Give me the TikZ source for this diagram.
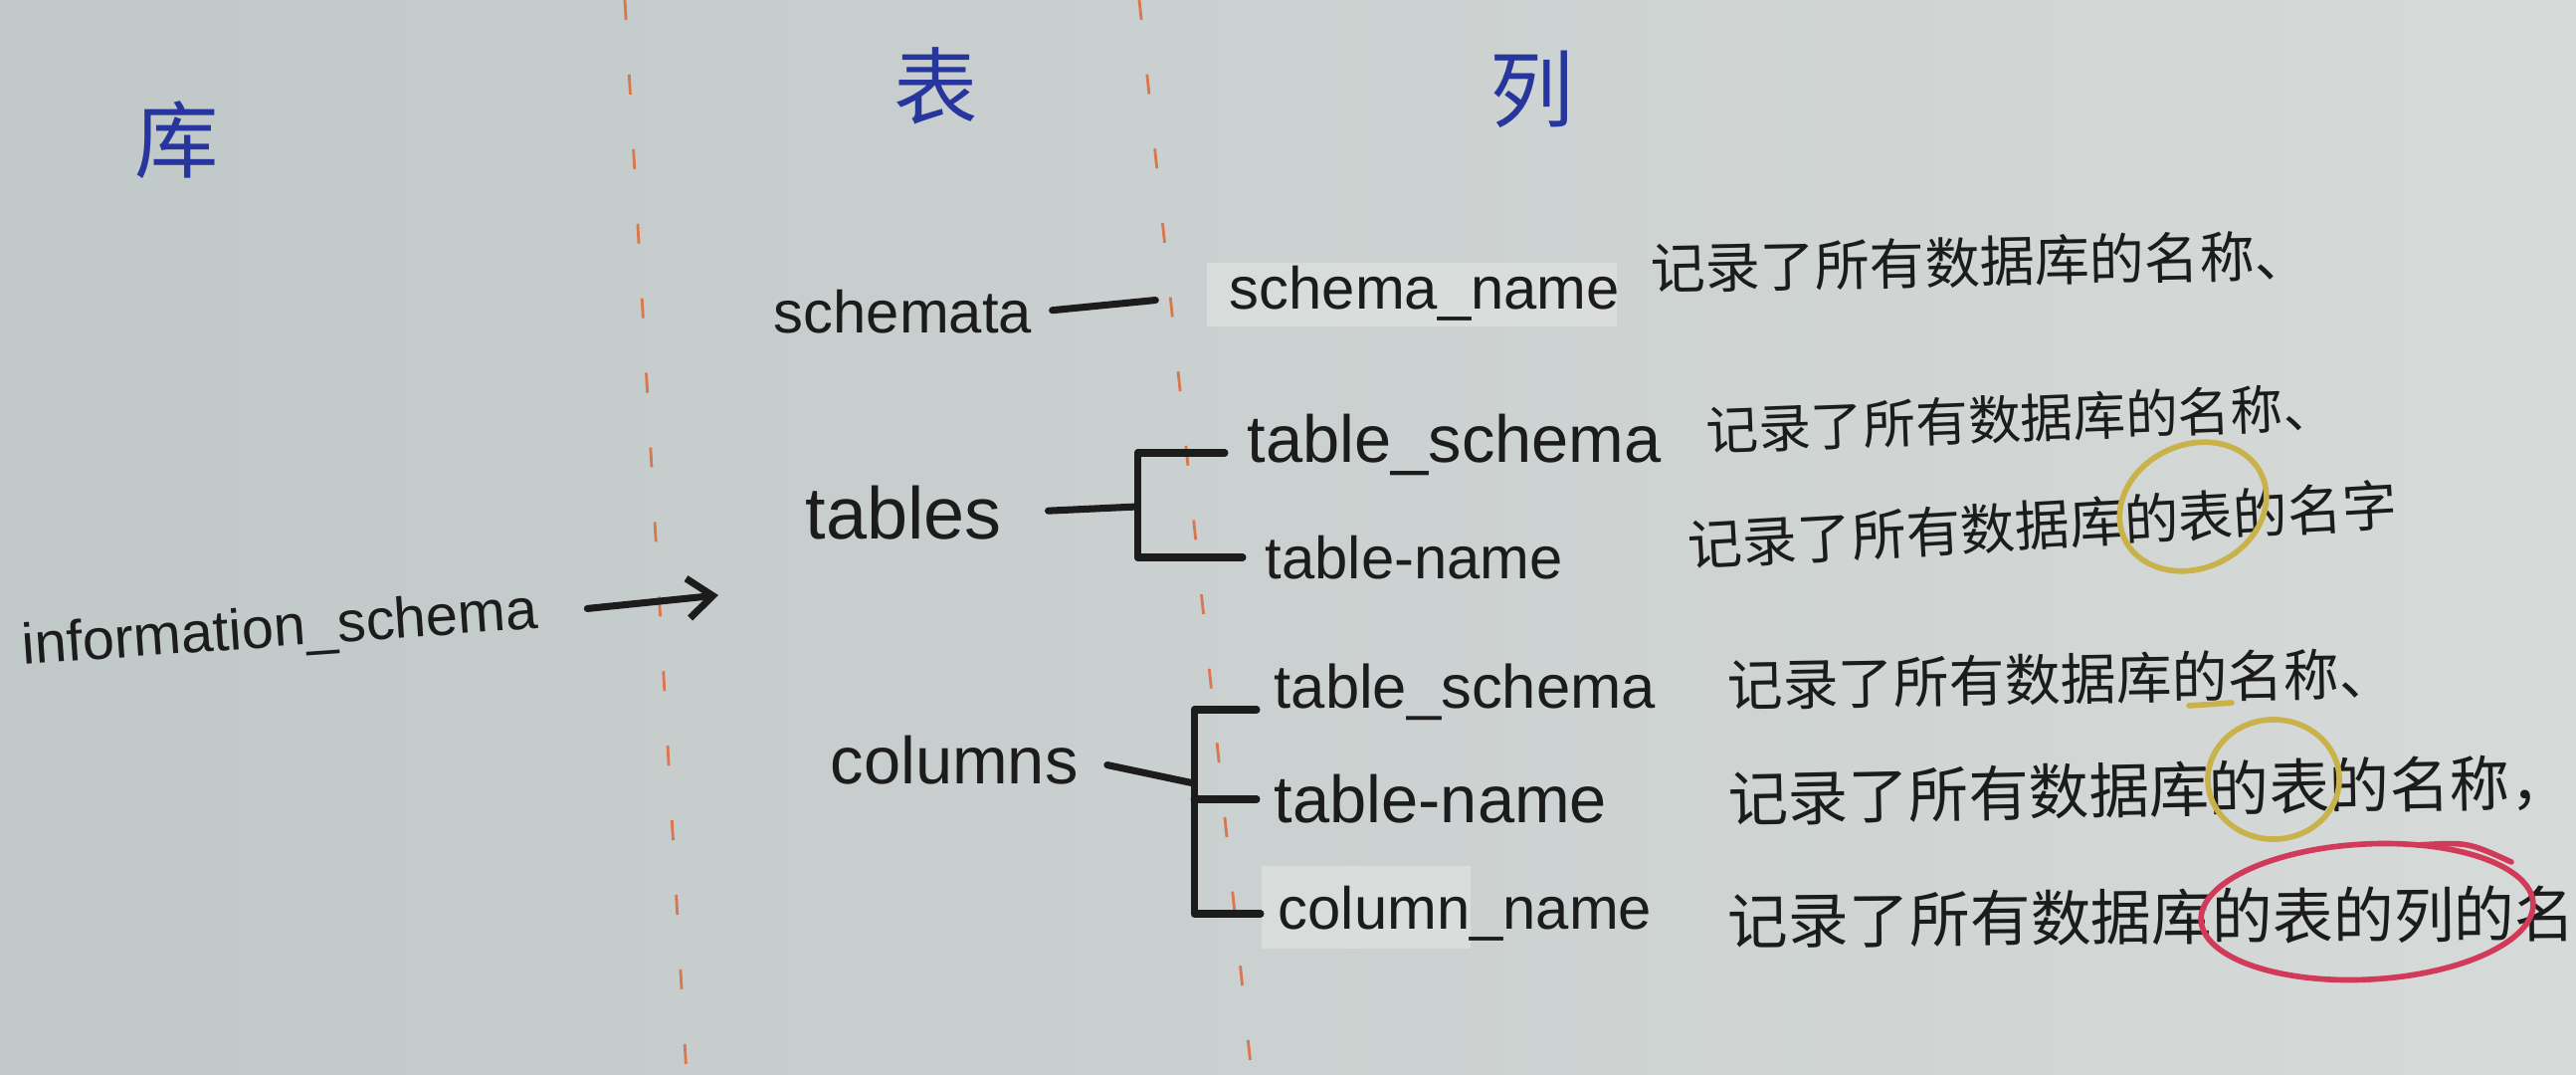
\documentclass[tikz,border=0pt]{standalone}
\usepackage{fontspec}
\setmainfont{Liberation Sans}
\newfontfamily\cjk{Noto Sans CJK SC}
\usetikzlibrary{arrows.meta,positioning,calc}
\definecolor{paperL}{RGB}{192,200,200}
\definecolor{paperR}{RGB}{214,218,216}
\definecolor{glare}{RGB}{226,229,227}
\definecolor{ink}{HTML}{1C1C1C}
\definecolor{penBlue}{HTML}{26369C}
\definecolor{guideRed}{HTML}{D9774F}
\definecolor{hlYel}{HTML}{C9B24A}
\definecolor{hlRed}{HTML}{D23A5A}
\tikzset{
  pen/.style={ink,line width=2pt,line cap=round,line join=round},
  word/.style={ink,font=\fontsize{#1}{#1}\selectfont,anchor=west,inner sep=2pt},
  word/.default=17,
  note/.style={ink,font=\cjk\fontsize{#1}{#1}\selectfont,anchor=west,inner sep=0pt},
  note/.default=15.6,
  colhead/.style={penBlue,font=\cjk\fontsize{24}{24}\selectfont},
  guide/.style={guideRed,line width=0.8pt,dash pattern=on 0.2cm off 0.55cm},
  ring/.style={line width=1.6pt}
}
\begin{document}
\begin{tikzpicture}[x=0.01cm,y=-0.01cm]
  \shade[left color=paperL,right color=paperR] (0,0) rectangle (2589,1080);
  \useasboundingbox (0,0) rectangle (2589,1080);
  \fill[glare,opacity=0.6] (1213,264) rectangle (1625,328);
  \fill[glare,opacity=0.6] (1268,870) rectangle (1478,953);
  % column guides
  \draw[guide] (628,0) -- (690,1080);
  \draw[guide] (1145,0) -- (1258,1080);
  % headings
  \node[colhead] (ku) at (178,141) {库};
  \node[colhead] (biao) at (941,86) {表};
  \node[colhead] (lie) at (1540,90) {列};
  % database
  \node[word=16.4,rotate=4] (info) at (15,653) {information\_schema};
  \coordinate (infoTip) at (722,598);
  \draw[pen,-{Straight Barb[length=0.25cm,width=0.4cm]},shorten <=0.42cm] (info.east) -- (infoTip);
  % schemata
  \node[word] (schemata) at (770,313) {schemata};
  \node[word] (sname) at (1228,295) {schema\_name};
  \draw[pen,shorten <=0.13cm,shorten >=0.67cm] (schemata.east) -- (sname.west);
  \node[note=15.7,rotate=1.2] (d1) at (1658,270) {记录了所有数据库的名称、};
  % tables
  \node[word=21] (tables) at (802,515) {tables};
  \node[word=19] (tsch) at (1246,447) {table\_schema};
  \node[word] (tnam) at (1264,560) {table-name};
  \coordinate (tfork) at (1143,509);
  \draw[pen,shorten <=0.39cm] (tables.east) -- (tfork);
  \draw[pen,shorten <=0.15cm,shorten >=0.15cm] ([yshift=-0.08cm]tsch.west) -| (tfork) |- (tnam.west);
  \node[note=15,rotate=2.2] (d2) at (1714,433) {记录了所有数据库的名称、};
  \node[note,rotate=3.3] (d3) at (1696,548) {记录了所有数据库的表的名字};
  % columns
  \node[word=19] (columns) at (827,764) {columns};
  \node[word=17.5] (csch) at (1273,695) {table\_schema};
  \node[word=19] (cnam) at (1273,803) {table-name};
  \node[word] (ccol) at (1277,918) {column\_name};
  \coordinate (cfork) at (1200,787);
  \draw[pen,shorten <=0.22cm] (columns.east) -- (cfork);
  \draw[pen,shorten <=0.1cm,shorten >=0.1cm] ([yshift=-0.18cm]csch.west) -| (cfork) |- (ccol.west);
  \draw[pen,shorten >=0.1cm] (cfork |- cnam.west) -- (cnam.west);
  \node[note=15.9,rotate=1] (d4) at (1735,688) {记录了所有数据库的名称、};
  \node[note=17.2,rotate=1.2] (d5) at (1736,803) {记录了所有数据库的表的名称，};
  \node[note=17.3,rotate=0.5] (d6) at (1736,925) {记录了所有数据库的表的列的名};
  % marks
  \draw[ring,hlYel,rotate around={25:(2204,509)}] (2204,509) ellipse [x radius=0.76cm,y radius=0.62cm];
  \draw[ring,hlYel] (2285,783) ellipse [x radius=0.66cm,y radius=0.6cm];
  \draw[ring,hlYel,line cap=round] (2200,709) -- (2243,706);
  \draw[ring,hlRed,rotate around={3:(2379,916)}] (2379,916) ellipse [x radius=1.67cm,y radius=0.68cm];
  \draw[ring,hlRed,line cap=round] (2430,849) .. controls (2480,846) .. (2524,866);
\end{tikzpicture}
\end{document}
